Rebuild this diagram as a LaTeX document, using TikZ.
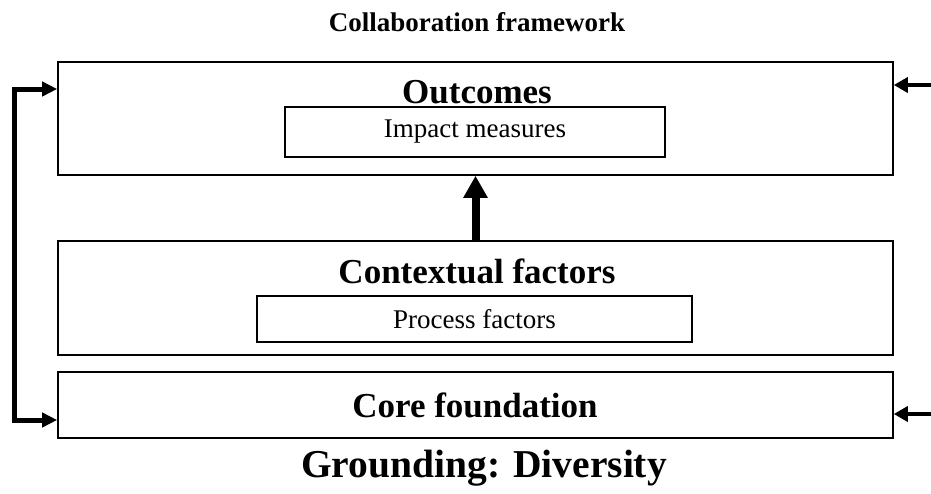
\documentclass[tikz,border=0pt]{standalone}
\usepackage{fontspec}
\setmainfont{Liberation Serif}
\usetikzlibrary{arrows.meta,positioning}

\begin{document}
\begin{tikzpicture}[
  x=1pt,y=-1pt,
  panel/.style={draw=black,line width=1.6pt,minimum width=835pt},
  subbox/.style={draw=black,line width=1.4pt,font=\fontsize{27}{30}\selectfont},
  head/.style={font=\bfseries\fontsize{35}{40}\selectfont,anchor=base,inner sep=0pt},
  feed/.style={line width=4pt,-{Triangle[length=14pt,width=15pt]}},
  span/.style={line width=5pt,{Triangle[length=15pt,width=14pt]}-{Triangle[length=15pt,width=14pt]}},
  rise/.style={line width=8pt,-{Triangle[length=22pt,width=23pt]}}
]
\useasboundingbox (0,0) rectangle (931,493);

\node[head,font=\bfseries\fontsize{27}{30}\selectfont] (title) at (477,31) {Collaboration framework};

% three stacked layers
\node[panel,minimum height=113pt] (outcomes) at (475.5,118.5) {};
\node[head] (outtxt) at (477,103) {Outcomes};
\node[subbox,minimum width=380pt,minimum height=50pt] (impact) at (475,132) {Impact measures};

\node[panel,minimum height=114pt] (context) at (475.5,298) {};
\node[head] (ctxtxt) at (477,283) {Contextual factors};
\node[subbox,minimum width=435pt,minimum height=46pt] (process) at (474.5,319) {Process factors};

\node[panel,minimum height=66pt] (core) at (475.5,405) {};
\node[head] (coretxt) at (475,417) {Core foundation};

\node[head,font=\bfseries\fontsize{39.5}{44}\selectfont] (ground) at (484,477) {Grounding: Diversity};

% arrows
\draw[rise] (context.north) -- (outcomes.south);

\coordinate (rtop) at (931,85);
\coordinate (rbot) at (931,414);
\draw[feed] (rtop) -- (outcomes.east |- rtop);
\draw[feed] (rbot) -- (core.east |- rbot);

\coordinate (ltop) at (14,89);
\coordinate (lbot) at (14,420);
\draw[span] (outcomes.west |- ltop) -- (ltop) -- (lbot) -- (core.west |- lbot);
\end{tikzpicture}
\end{document}
